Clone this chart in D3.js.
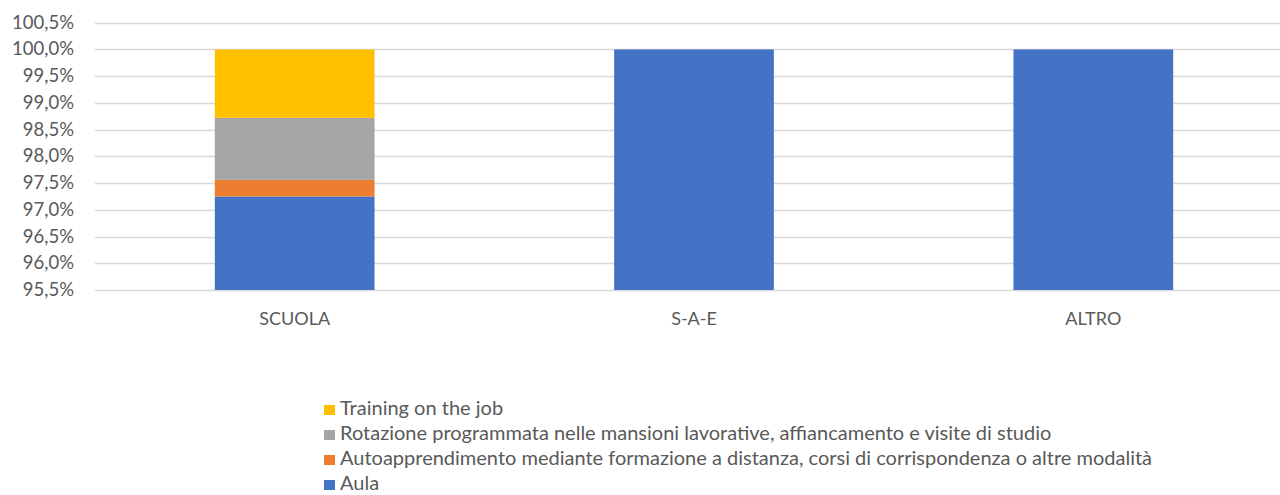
<!DOCTYPE html>
<html>
<head>
<meta charset="utf-8">
<script src="https://cdn.jsdelivr.net/npm/d3@7"></script>
<style>
  body { margin: 0; background: #fff; }
  text { font-family: Lato, "Open Sans", sans-serif; fill: #595959; }
</style>
</head>
<body>
<div id="chart"></div>
<script>
// data
const categories = ["SCUOLA", "S-A-E", "ALTRO"];
const aula = [97.25, 100, 100];
const autoapprendimento = [0.31, 0, 0];
const rotazione = [1.16, 0, 0];
const training = [1.28, 0, 0];
const yTicks = [95.5, 96, 96.5, 97, 97.5, 98, 98.5, 99, 99.5, 100, 100.5];

const seriesNames = [
  "Aula",
  "Autoapprendimento mediante formazione a distanza, corsi di corrispondenza o altre modalità",
  "Rotazione programmata nelle mansioni lavorative, affiancamento e visite di studio",
  "Training on the job"
];
const seriesValues = [aula, autoapprendimento, rotazione, training];
const colors = ["#4472c4", "#ed7d31", "#a5a5a5", "#ffc000"];

const W = 1280, H = 495;
const plotLeft = 95, plotRight = 1293, plotTop = 22.7, plotBottom = 290;

const svg = d3.select("#chart").append("svg")
  .attr("width", W)
  .attr("height", H);

const rows = categories.map((c, i) => {
  const r = {cat: c};
  seriesNames.forEach((s, k) => r[s] = seriesValues[k][i]);
  return r;
});

const stacked = d3.stack().keys(seriesNames)(rows);

const x = d3.scaleBand()
  .domain(categories)
  .range([plotLeft, plotRight])
  .paddingInner(0.6)
  .paddingOuter(0.3);

const y = d3.scaleLinear()
  .domain([95.5, 100.5])
  .range([plotBottom, plotTop]);

const it = d3.formatLocale({decimal: ",", thousands: ".", grouping: [3], currency: ["", "€"]});
const fmt = v => it.format(".1f")(v) + "%";

// gridlines
svg.append("g")
  .selectAll("line")
  .data(yTicks)
  .enter().append("line")
  .attr("x1", plotLeft)
  .attr("x2", W)
  .attr("y1", d => Math.round(y(d)) + 0.5)
  .attr("y2", d => Math.round(y(d)) + 0.5)
  .style("stroke", "#d9d9d9")
  .style("stroke-width", 1.3);

// y tick labels
svg.append("g")
  .selectAll("text")
  .data(yTicks)
  .enter().append("text")
  .attr("x", 74)
  .attr("y", d => y(d) + 6)
  .attr("text-anchor", "end")
  .style("font-size", "18.5px")
  .text(fmt);

// bars
svg.append("g")
  .selectAll("g")
  .data(stacked)
  .enter().append("g")
  .style("fill", (d, i) => colors[i])
  .selectAll("rect")
  .data(d => d.filter(p => p[1] - p[0] > 0))
  .enter().append("rect")
  .attr("x", d => x(d.data.cat))
  .attr("width", x.bandwidth())
  .attr("y", d => y(d[1]))
  .attr("height", d => y(Math.max(d[0], 95.5)) - y(d[1]));

// category labels
svg.append("g")
  .selectAll("text")
  .data(categories)
  .enter().append("text")
  .attr("x", d => x(d) + x.bandwidth() / 2)
  .attr("y", 325)
  .attr("text-anchor", "middle")
  .style("font-size", "18px")
  .text(d => d);

// legend, top entry is the last series
const legendOrder = seriesNames.map((s, i) => i).reverse();
const legend = svg.append("g")
  .selectAll("g")
  .data(legendOrder)
  .enter().append("g")
  .attr("transform", (d, i) => `translate(324, ${415 + i * 25})`);

legend.append("rect")
  .attr("x", 0)
  .attr("y", -10)
  .attr("width", 11)
  .attr("height", 10)
  .style("fill", d => colors[d]);

legend.append("text")
  .attr("x", 16)
  .attr("y", 0)
  .style("font-size", "20px")
  .text(d => seriesNames[d]);
</script>
</body>
</html>
